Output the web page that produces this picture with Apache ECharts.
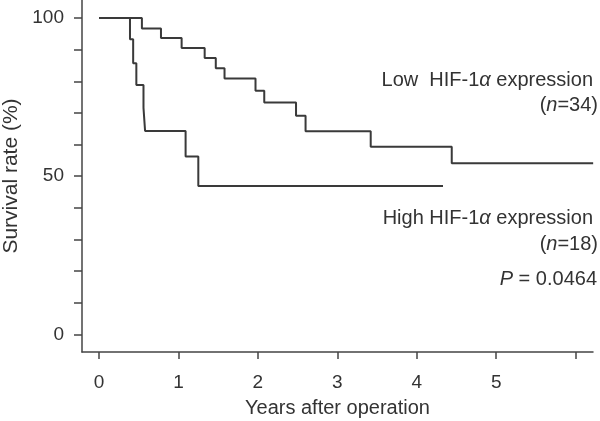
<!DOCTYPE html>
<html>
<head>
<meta charset="utf-8">
<style>html,body{margin:0;padding:0;background:#fff}#c{width:600px;height:421px}</style>
<script src="https://cdn.jsdelivr.net/npm/echarts@6/dist/echarts.min.js"></script>
</head>
<body>
<div id="c"></div>
<script>
// Low HIF-1alpha expression (n=34): event times (years) and survival (%)
var lowTimes = [0, 0.54, 0.78, 1.04, 1.33, 1.47, 1.58, 1.97, 2.08, 2.48, 2.60, 3.42, 4.44, 6.22];
var lowSurv  = [100, 96.7, 93.7, 90.5, 87.4, 84.1, 80.9, 77.0, 73.3, 69.1, 64.2, 59.3, 54.1, 54.1];
// High HIF-1alpha expression (n=18)
var highTimes = [0, 0.39, 0.43, 0.47, 0.56, 0.58, 1.09, 1.25, 4.33];
var highSurv  = [100, 93.3, 85.7, 78.8, 71.6, 64.3, 56.2, 46.9, 46.9];
// axis ticks / labels
var xTicks = [0, 1, 2, 3, 4, 5, 6];
var xLabels = [0, 1, 2, 3, 4, 5];
var yTicks = [0, 10, 20, 30, 40, 50, 60, 70, 80, 90, 100];
var yLabels = [0, 50, 100];

function pairs(t, s) { return t.map(function (v, i) { return [v, s[i]]; }); }

var FONT = '"Liberation Sans", Arial, Helvetica, sans-serif';
var INK = '#3a3a3a';
var chart = echarts.init(document.getElementById('c'), null, { renderer: 'canvas' });
chart.setOption({
  animation: false,
  backgroundColor: '#fff',
  grid: { left: 82, right: 7, top: 0, bottom: 69, containLabel: false, outerBoundsMode: 'none' },
  xAxis: {
    type: 'value', min: -0.214, max: 6.218,
    name: 'Years after operation', nameLocation: 'middle', nameGap: 46,
    nameTextStyle: { fontFamily: FONT, fontSize: 20, color: '#333' },
    axisLine: { show: true, onZero: false, lineStyle: { color: '#444', width: 1.5 } },
    axisTick: { show: true, length: 7, customValues: xTicks, lineStyle: { color: '#444', width: 1.5 } },
    axisLabel: { customValues: xLabels, margin: 21, fontFamily: FONT, fontSize: 19, color: '#333' },
    splitLine: { show: false }
  },
  yAxis: {
    type: 'value', min: -5.6, max: 105.7,
    name: 'Survival rate (%)', nameLocation: 'middle', nameGap: 60, nameRotate: 90,
    nameTextStyle: { fontFamily: FONT, fontSize: 21, color: '#333' },
    axisLine: { show: true, onZero: false, lineStyle: { color: '#444', width: 1.5 } },
    axisTick: { show: true, length: 8, customValues: yTicks, lineStyle: { color: '#444', width: 1.5 } },
    axisLabel: { customValues: yLabels, margin: 18, fontFamily: FONT, fontSize: 19, color: '#333' },
    splitLine: { show: false }
  },
  series: [
    { type: 'line', step: 'end', data: pairs(lowTimes, lowSurv), showSymbol: false, symbol: 'none',
      lineStyle: { color: INK, width: 2 } },
    { type: 'line', step: 'end', data: pairs(highTimes, highSurv), showSymbol: false, symbol: 'none',
      lineStyle: { color: INK, width: 2 } }
  ],
  graphic: [
    { type: 'text', right: 7, top: 70, style: { text: 'Low  HIF-1{a|α} expression', font: '20px ' + FONT, fill: '#333',
      rich: { a: { fontFamily: FONT, fontSize: 20, fontStyle: 'italic', fill: '#333' } } } },
    { type: 'text', right: 2, top: 95, style: { text: '({i|n}=34)', font: '20px ' + FONT, fill: '#333',
      rich: { i: { fontFamily: FONT, fontSize: 20, fontStyle: 'italic', fill: '#333' } } } },
    { type: 'text', right: 7, top: 208, style: { text: 'High HIF-1{a|α} expression', font: '20px ' + FONT, fill: '#333',
      rich: { a: { fontFamily: FONT, fontSize: 20, fontStyle: 'italic', fill: '#333' } } } },
    { type: 'text', right: 2, top: 234, style: { text: '({i|n}=18)', font: '20px ' + FONT, fill: '#333',
      rich: { i: { fontFamily: FONT, fontSize: 20, fontStyle: 'italic', fill: '#333' } } } },
    { type: 'text', right: 3, top: 269, style: { text: '{i|P} = 0.0464', font: '20px ' + FONT, fill: '#333',
      rich: { i: { fontFamily: FONT, fontSize: 20, fontStyle: 'italic', fill: '#333' } } } }
  ]
});
</script>
</body>
</html>
